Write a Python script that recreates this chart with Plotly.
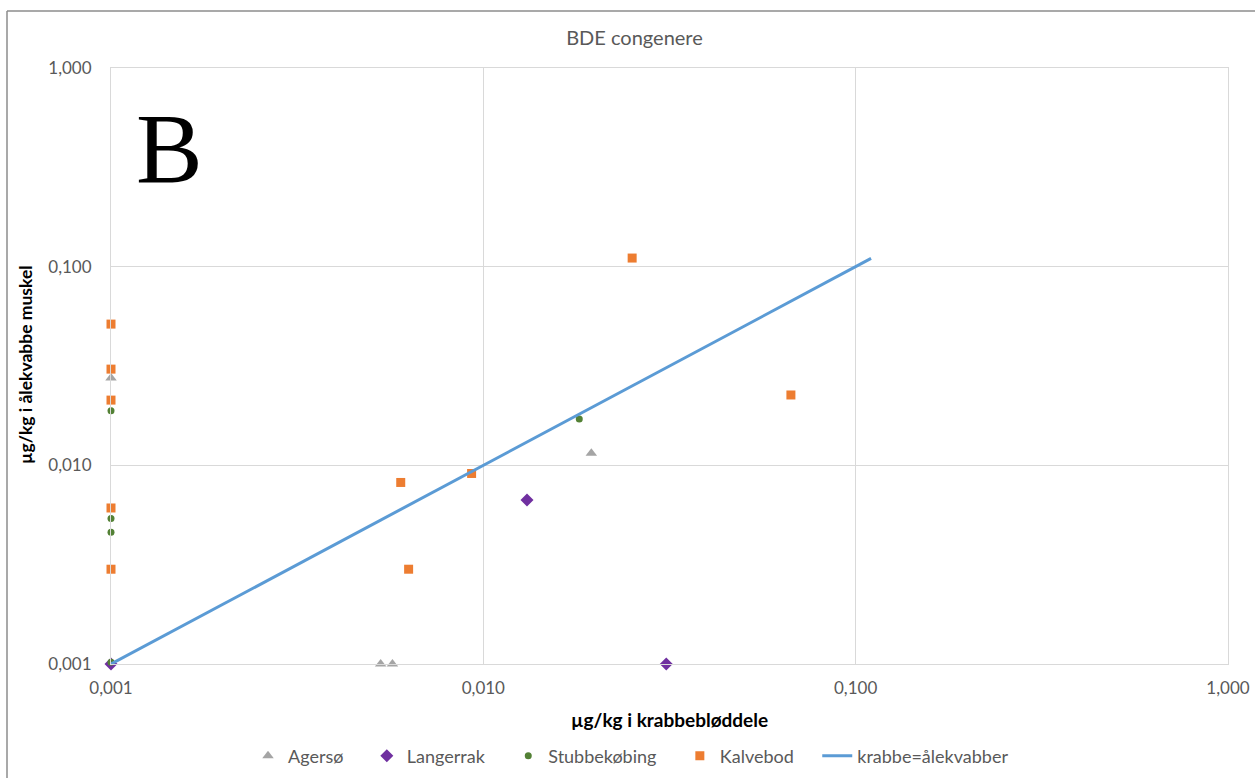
import plotly.graph_objects as go

# BDE congener concentrations (µg/kg): crab soft tissue (x) vs eelpout muscle (y)
agersoe_x = [0.001, 0.0053, 0.0057, 0.0195]
agersoe_y = [0.0275, 0.001, 0.001, 0.0115]

langerrak_x = [0.001, 0.0131, 0.031]
langerrak_y = [0.001, 0.0067, 0.001]

stubbekoebing_x = [0.001, 0.001, 0.001, 0.001, 0.0181]
stubbekoebing_y = [0.0188, 0.0054, 0.0046, 0.00102, 0.0171]

kalvebod_x = [0.001, 0.001, 0.001, 0.001, 0.001, 0.0060, 0.0063, 0.0093, 0.0251, 0.067]
kalvebod_y = [0.0514, 0.0305, 0.0213, 0.0061, 0.0030, 0.0082, 0.0030, 0.0091, 0.1105, 0.0226]

line_x = [0.001, 0.11]
line_y = [0.001, 0.11]

tick_vals = [0.001, 0.01, 0.1, 1.0]
tick_text = ["0,001", "0,010", "0,100", "1,000"]

FONT = "Lato, 'Open Sans', sans-serif"
GRID = "#d9d9d9"
TXT = "#595959"
PAD = "\u00a0" * 4  # extra space between legend entries

# plot-area geometry in pixels
W, H = 1255, 778
L, R, T, B = 111, 27, 68, 114
PW, PH = W - L - R, H - T - B


def px_x(px):
    return (px - L) / PW


def px_y(py):
    return 1 - (py - T) / PH


fig = go.Figure()

fig.add_trace(go.Scatter(
    x=agersoe_x, y=agersoe_y, mode="markers", name="Agersø" + PAD,
    marker=dict(symbol="triangle-up", size=10, color="#A5A5A5"),
    cliponaxis=False,
))
fig.add_trace(go.Scatter(
    x=langerrak_x, y=langerrak_y, mode="markers", name="Langerrak" + PAD,
    marker=dict(symbol="diamond", size=10, color="#7030A0"),
    cliponaxis=False,
))
fig.add_trace(go.Scatter(
    x=stubbekoebing_x, y=stubbekoebing_y, mode="markers", name="Stubbekøbing" + PAD,
    marker=dict(symbol="circle", size=7, color="#538135"),
    cliponaxis=False,
))
fig.add_trace(go.Scatter(
    x=kalvebod_x, y=kalvebod_y, mode="markers", name="Kalvebod" + PAD,
    marker=dict(symbol="square", size=9, color="#ED7D31"),
    cliponaxis=False,
))
fig.add_trace(go.Scatter(
    x=line_x, y=line_y, mode="lines", name="krabbe=ålekvabber",
    line=dict(color="#5B9BD5", width=3),
    cliponaxis=False,
))

axis_common = dict(
    type="log",
    range=[-3, 0],
    tickvals=tick_vals,
    ticktext=tick_text,
    showgrid=True,
    gridcolor=GRID,
    gridwidth=1,
    showline=True,
    linecolor=GRID,
    linewidth=1,
    mirror=True,
    zeroline=False,
    ticks="",
    automargin=False,
    tickfont=dict(family=FONT, size=17, color=TXT),
)

fig.update_layout(
    width=W,
    height=H,
    margin=dict(l=L, r=R, t=T, b=B),
    paper_bgcolor="white",
    plot_bgcolor="white",
    font=dict(family=FONT, color=TXT),
    title=dict(
        text="BDE congenere",
        x=px_x(634.5), xanchor="center", xref="paper",
        y=1 - 38 / H, yanchor="middle",
        font=dict(family=FONT, size=20, color=TXT),
    ),
    xaxis=dict(**axis_common, ticklabelstandoff=9),
    yaxis=dict(**axis_common, ticklabelstandoff=15),
    legend=dict(
        orientation="h",
        x=248 / W, xanchor="left", xref="container",
        y=22 / H, yanchor="middle", yref="container",
        font=dict(family=FONT, size=18, color=TXT),
        itemwidth=30,
        tracegroupgap=0,
    ),
    showlegend=True,
)

# Axis titles
fig.add_annotation(
    text="<b>µg/kg i krabbebløddele</b>", xref="paper", yref="paper",
    x=0.5, y=px_y(719), xanchor="center", yanchor="middle", showarrow=False,
    font=dict(family=FONT, size=19, color="#000000"),
)
fig.add_annotation(
    text="<b>µg/kg i ålekvabbe muskel</b>", xref="paper", yref="paper",
    x=px_x(25), y=px_y(365), xanchor="center", yanchor="middle", showarrow=False,
    textangle=-90,
    font=dict(family=FONT, size=17.5, color="#000000"),
)

# Panel letter
fig.add_annotation(
    text="B", xref="paper", yref="paper",
    x=px_x(134), y=px_y(148),
    xanchor="left", yanchor="middle", showarrow=False,
    font=dict(family="Liberation Serif, 'DejaVu Serif', serif", size=100, color="#000000"),
)

# Outer chart frame (top and left edges)
fig.add_shape(type="line", xref="paper", yref="paper",
              x0=px_x(7), x1=px_x(1260), y0=px_y(11), y1=px_y(11),
              line=dict(color="#8c8c8c", width=1.5))
fig.add_shape(type="line", xref="paper", yref="paper",
              x0=px_x(7), x1=px_x(7), y0=px_y(11), y1=px_y(790),
              line=dict(color="#8c8c8c", width=1.5))

fig.write_html("out.html")
